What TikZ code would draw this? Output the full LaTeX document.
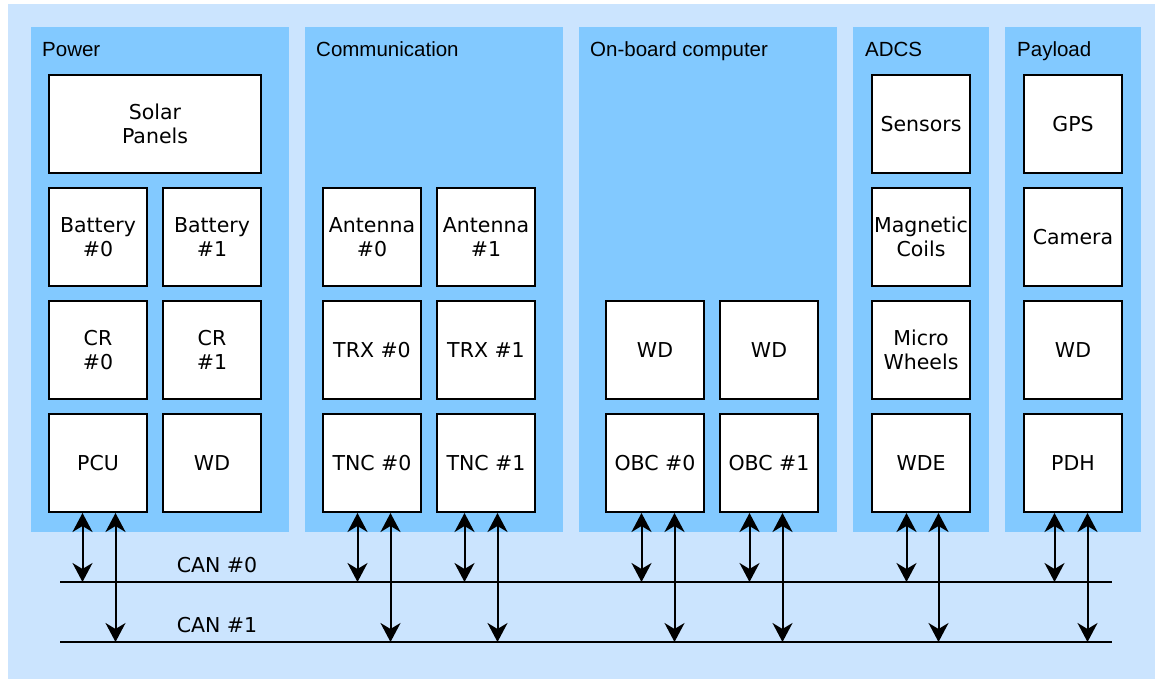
\documentclass[tikz,border=0pt]{standalone}
\usepackage{fontspec}
\setmainfont{DejaVu Sans}
\newfontfamily\lblfont{Liberation Sans}
\usetikzlibrary{arrows.meta}
\definecolor{outerbg}{RGB}{203,228,254}
\definecolor{panelbg}{RGB}{130,201,255}
\begin{document}
\begin{tikzpicture}[x=1pt,y=-1pt,
  panel/.style={fill=panelbg, draw=none, inner sep=0pt, anchor=north west},
  lbl/.style={font=\lblfont\fontsize{20.5pt}{24pt}\selectfont, anchor=base west, inner sep=0pt},
  box/.style={draw=black, fill=white, line width=2pt, minimum width=98pt, minimum height=98pt,
    inner sep=0pt, align=center, font=\fontsize{20.5pt}{24pt}\selectfont},
  captip/.tip={Stealth[length=19pt,width=20pt,inset=6pt]},
  bi/.style={line width=2pt, captip-captip},
  bus/.style={line width=2pt},
  buslbl/.style={font=\fontsize{20.5pt}{24pt}\selectfont, anchor=base, inner sep=0pt}]
\useasboundingbox (0,0) rectangle (1155,679);
\fill[outerbg] (8,4) rectangle (1155,679);
% panels
\node[panel, minimum width=258pt, minimum height=505pt] (ppower) at (31,27) {};
\node[panel, minimum width=258pt, minimum height=505pt] (pcomm) at (305,27) {};
\node[panel, minimum width=258pt, minimum height=505pt] (pobc) at (579,27) {};
\node[panel, minimum width=136pt, minimum height=505pt] (padcs) at (853,27) {};
\node[panel, minimum width=136pt, minimum height=505pt] (ppay) at (1005,27) {};
\node[lbl] (lpower) at (42,57) {Power};
\node[lbl] (lcomm) at (316,57) {Communication};
\node[lbl] (lobc) at (590,57) {On-board computer};
\node[lbl] (ladcs) at (865,57) {ADCS};
\node[lbl] (lpay) at (1017,57) {Payload};
% power boxes
\node[box, minimum width=212pt] (solar) at (155,124) {Solar\\Panels};
\node[box] (bat0) at (98,237) {Battery\\\#0};
\node[box] (bat1) at (212,237) {Battery\\\#1};
\node[box] (cr0) at (98,350) {CR\\\#0};
\node[box] (cr1) at (212,350) {CR\\\#1};
\node[box] (pcu) at (98,463) {PCU};
\node[box] (pwd) at (212,463) {WD};
% communication
\node[box] (ant0) at (372,237) {Antenna\\\#0};
\node[box] (ant1) at (486,237) {Antenna\\\#1};
\node[box] (trx0) at (372,350) {TRX \#0};
\node[box] (trx1) at (486,350) {TRX \#1};
\node[box] (tnc0) at (372,463) {TNC \#0};
\node[box] (tnc1) at (486,463) {TNC \#1};
% obc
\node[box] (owd0) at (655,350) {WD};
\node[box] (owd1) at (769,350) {WD};
\node[box] (obc0) at (655,463) {OBC \#0};
\node[box] (obc1) at (769,463) {OBC \#1};
% adcs
\node[box] (sens) at (921,124) {Sensors};
\node[box] (mag) at (921,237) {Magnetic\\Coils};
\node[box] (micro) at (921,350) {Micro\\Wheels};
\node[box] (wde) at (921,463) {WDE};
% payload
\node[box] (gps) at (1073,124) {GPS};
\node[box] (cam) at (1073,237) {Camera};
\node[box] (ywd) at (1073,350) {WD};
\node[box] (pdh) at (1073,463) {PDH};
% buses
\coordinate (can0a) at (60,582);
\coordinate (can0b) at (1112,582);
\coordinate (can1a) at (60,642);
\coordinate (can1b) at (1112,642);
\draw[bus] (can0a) -- (can0b);
\draw[bus] (can1a) -- (can1b);
\node[buslbl] (l0) at (217,572) {CAN \#0};
\node[buslbl] (l1) at (217,632) {CAN \#1};
% taps
\path ([xshift=34.5pt]pcu.south west) coordinate (pcuA) ([xshift=67.5pt]pcu.south west) coordinate (pcuB);
\path ([xshift=35.5pt]tnc0.south west) coordinate (tnc0A) ([xshift=68.5pt]tnc0.south west) coordinate (tnc0B);
\path ([xshift=28.5pt]tnc1.south west) coordinate (tnc1A) ([xshift=61.5pt]tnc1.south west) coordinate (tnc1B);
\path ([xshift=36.5pt]obc0.south west) coordinate (obc0A) ([xshift=69.5pt]obc0.south west) coordinate (obc0B);
\path ([xshift=30.5pt]obc1.south west) coordinate (obc1A) ([xshift=63.5pt]obc1.south west) coordinate (obc1B);
\path ([xshift=35.5pt]wde.south west) coordinate (wdeA) ([xshift=67.5pt]wde.south west) coordinate (wdeB);
\path ([xshift=31.5pt]pdh.south west) coordinate (pdhA) ([xshift=64.5pt]pdh.south west) coordinate (pdhB);
\foreach \t in {pcu,tnc0,tnc1,obc0,obc1,wde,pdh}{
  \draw[bi] (\t A) -- (\t A |- can0a);
  \draw[bi] (\t B) -- (\t B |- can1a);
}
\end{tikzpicture}
\end{document}
